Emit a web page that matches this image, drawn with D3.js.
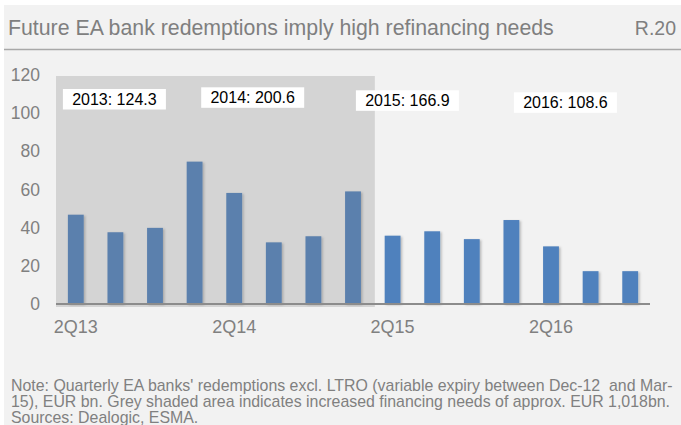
<!DOCTYPE html>
<html>
<head>
<meta charset="utf-8">
<script src="https://cdn.jsdelivr.net/npm/d3@7"></script>
<style>
  html, body { margin: 0; padding: 0; background: #ffffff; }
  svg { display: block; font-family: "Liberation Sans", Arial, sans-serif; }
</style>
</head>
<body>
<svg id="chart" width="681" height="425"></svg>
<script>
// Quarterly EA bank redemptions, EUR bn
const quarters = ["2Q13","3Q13","4Q13","1Q14","2Q14","3Q14","4Q14","1Q15",
                  "2Q15","3Q15","4Q15","1Q16","2Q16","3Q16","4Q16"];
const redemptions = [46.8, 37.6, 39.9, 74.6, 58.2, 32.3, 35.5, 59.0,
                     35.8, 38.1, 34.0, 44.0, 30.2, 17.2, 17.2];
const years = ["2013", "2014", "2015", "2016"];
const yTicks = [0, 20, 40, 60, 80, 100, 120];
const xTickLabels = ["2Q13", "2Q14", "2Q15", "2Q16"];
// quarters falling inside the shaded high-refinancing period
const shadedQuarters = ["2Q13","3Q13","4Q13","1Q14","2Q14","3Q14","4Q14","1Q15"];

const title = "Future EA bank redemptions imply high refinancing needs";
const chartId = "R.20";
const noteLines = [
  "Note: Quarterly EA banks' redemptions excl. LTRO (variable expiry between Dec-12  and Mar-",
  "15), EUR bn. Grey shaded area indicates increased financing needs of approx. EUR 1,018bn.",
  "Sources: Dealogic, ESMA."
];

const svg = d3.select("#chart");
const W = 681, H = 425;

// panel background
svg.append("rect").attr("x", 4).attr("y", 5).attr("width", W - 4).attr("height", H - 5)
  .attr("fill", "#f2f2f2");

// title bar
svg.append("text").attr("x", 8).attr("y", 35)
  .attr("font-size", 21.3).attr("fill", "#7f7f7f").text(title);
svg.append("text").attr("x", 676).attr("y", 35).attr("text-anchor", "end")
  .attr("font-size", 19.5).attr("fill", "#7f7f7f").text(chartId);
svg.append("line").attr("x1", 4).attr("x2", W).attr("y1", 49.5).attr("y2", 49.5)
  .attr("stroke", "#a8a8a8").attr("stroke-width", 1.5);

// scales
const x = d3.scaleBand().domain(quarters).range([56, 650])
  .paddingInner(0.6).paddingOuter(0.3);
const y = d3.scaleLinear().domain([0, 120]).range([304, 75]);

const defs = svg.append("defs");
const shadow = defs.append("filter").attr("id", "barShadow")
  .attr("x", "-30%").attr("y", "-10%").attr("width", "160%").attr("height", "120%");
shadow.append("feDropShadow").attr("dx", 1.5).attr("dy", 1).attr("stdDeviation", 1)
  .attr("flood-color", "#000").attr("flood-opacity", 0.25);

// y axis labels
const yAxis = d3.axisLeft(y).tickValues(yTicks).tickSize(0).tickPadding(0);
const gy = svg.append("g").attr("transform", "translate(40,0)").call(yAxis);
gy.select(".domain").remove();
gy.selectAll("text").attr("font-size", 17.5).attr("fill", "#808080")
  .attr("font-family", "Liberation Sans, Arial, sans-serif");

// bars
svg.append("g").selectAll("rect").data(quarters).join("rect")
  .attr("x", d => x(d))
  .attr("width", x.bandwidth())
  .attr("y", (d, i) => y(redemptions[i]))
  .attr("height", (d, i) => y(0) - y(redemptions[i]))
  .attr("fill", "#4f81bd")
  .attr("filter", "url(#barShadow)");

// shaded period overlay
const step = x.step();
const shadeStart = x(shadedQuarters[0]) - x.paddingOuter() * step;
const shadeEnd = x(shadedQuarters[shadedQuarters.length - 1]) + x.bandwidth() + step * x.paddingInner() / 2 + 2;
svg.append("rect")
  .attr("x", shadeStart).attr("y", y(120) + 1)
  .attr("width", shadeEnd - shadeStart).attr("height", y(0) - y(120) + 2)
  .attr("fill", "rgb(128,128,128)").attr("fill-opacity", 0.26);

// x axis
const xAxis = d3.axisBottom(x).tickValues(xTickLabels).tickSize(0).tickPadding(0);
const gx = svg.append("g").attr("transform", `translate(0,${y(0)})`).call(xAxis);
gx.select(".domain").remove();
gx.selectAll("text").attr("font-size", 18).attr("fill", "#808080")
  .attr("dy", null).attr("y", 29)
  .attr("font-family", "Liberation Sans, Arial, sans-serif");
svg.append("line").attr("x1", 56).attr("x2", 650).attr("y1", y(0)).attr("y2", y(0))
  .attr("stroke", "#8c8c8c").attr("stroke-width", 2);

// annual totals
const yearTotals = years.map(yr => {
  const sum = d3.sum(quarters.map((q, i) => q.endsWith(yr.slice(2)) ? redemptions[i] : 0));
  return yr + ": " + sum.toFixed(1);
});
const boxPos = [[114.4, 89], [252.7, 87.3], [407.4, 90.3], [565.4, 92.3]];
const ann = svg.append("g").selectAll("g").data(yearTotals).join("g")
  .attr("transform", (d, i) => `translate(${boxPos[i][0]},${boxPos[i][1]})`);
ann.append("rect").attr("x", -51.5).attr("y", 0).attr("width", 103).attr("height", 20.5)
  .attr("fill", "#ffffff");
ann.append("text").attr("x", 0).attr("y", 15.5).attr("text-anchor", "middle")
  .attr("font-size", 16).attr("fill", "#000").text(d => d);

// note
svg.append("g").selectAll("text").data(noteLines).join("text")
  .attr("x", 11).attr("y", (d, i) => 391 + i * 16)
  .attr("font-size", 15.9).attr("fill", "#808080")
  .style("white-space", "pre").text(d => d);
</script>
</body>
</html>
